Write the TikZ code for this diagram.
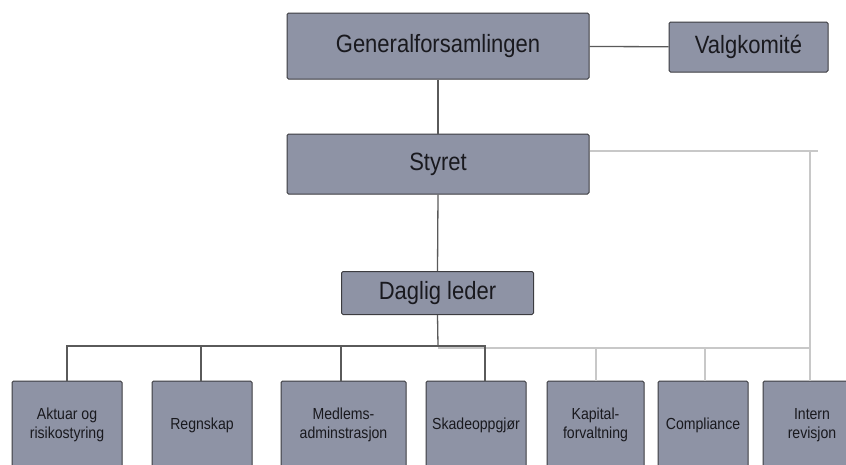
\documentclass[tikz,border=0pt]{standalone}
\usepackage{fontspec}
\setmainfont{Liberation Sans}
\newfontfamily\narrowfont[FakeStretch=0.88]{Liberation Sans}
\definecolor{boxfill}{RGB}{142,147,165}
\definecolor{boxline}{RGB}{60,60,64}
\definecolor{darkline}{RGB}{90,90,90}
\definecolor{lightline}{RGB}{200,200,200}
\definecolor{txt}{RGB}{25,25,30}
\tikzset{
  orgbox/.style={draw=boxline, line width=1pt, fill=boxfill, rounded corners=1.5pt,
    inner sep=0pt, align=center, text=txt, font=\narrowfont\fontsize{25}{28}\selectfont},
  smallbox/.style={orgbox, minimum height=88pt, font=\narrowfont\fontsize{16}{19}\selectfont},
  darkconn/.style={draw=darkline, line width=1.3pt},
  lightconn/.style={draw=lightline, line width=1.6pt}
}
\begin{document}
\begin{tikzpicture}[x=1pt,y=-1pt]
\useasboundingbox (0,0) rectangle (846,464);
% top boxes
\node[orgbox, minimum width=302pt, minimum height=66pt] (gen) at (438,46) {Generalforsamlingen};
\node[orgbox, minimum width=159pt, minimum height=50pt] (valg) at (748.5,47) {Valgkomité};
\node[orgbox, minimum width=302pt, minimum height=60pt] (styret) at (438,164) {Styret};
\node[orgbox, minimum width=192pt, minimum height=43pt] (daglig) at (437.5,293) {Daglig leder};
% bottom boxes
\node[smallbox, minimum width=110pt] (aktuar) at (67,425) {Aktuar og\\risikostyring};
\node[smallbox, minimum width=100pt] (regn) at (202,425) {Regnskap};
\node[smallbox, minimum width=125pt] (medl) at (343.5,425) {Medlems-\\adminstrasjon};
\node[smallbox, minimum width=100pt] (skade) at (476,425) {Skadeoppgjør};
\node[smallbox, minimum width=97pt] (kap) at (595.5,425) {Kapital-\\forvaltning};
\node[smallbox, minimum width=90pt] (comp) at (703,425) {Compliance};
\node[smallbox, minimum width=98pt] (intern) at (812,425) {Intern\\revisjon};
% junction coordinates
\coordinate (jd) at (438,346);
\coordinate (jl) at (438,348);
\coordinate (sr) at (818,151);
\coordinate (iv) at (810,151);
\coordinate (ie) at (810,348);
% light connectors
\draw[lightconn] ([yshift=13pt]styret.east) -- (sr);
\draw[lightconn] (iv) -- (intern.north -| iv);
\draw[lightconn] (jl) -- (ie);
\draw[lightconn] (jl -| 596,0) -- (kap.north -| 596,0);
\draw[lightconn] (jl -| 705,0) -- (comp.north -| 705,0);
% dark connectors
\draw[darkconn] (gen) -- (valg);
\draw[darkconn] (gen.south) -- (styret.north);
\draw[darkconn] (styret.south) -- (daglig.north);
\draw[darkconn] (daglig.south) -- (jd);
\draw[darkconn] (jd) -| ([xshift=9pt]skade.north);
\draw[darkconn] (jd) -| (aktuar.north);
\draw[darkconn] (jd) -| ([xshift=-1pt]regn.north);
\draw[darkconn] (jd) -| ([xshift=-2.5pt]medl.north);
\end{tikzpicture}
\end{document}
